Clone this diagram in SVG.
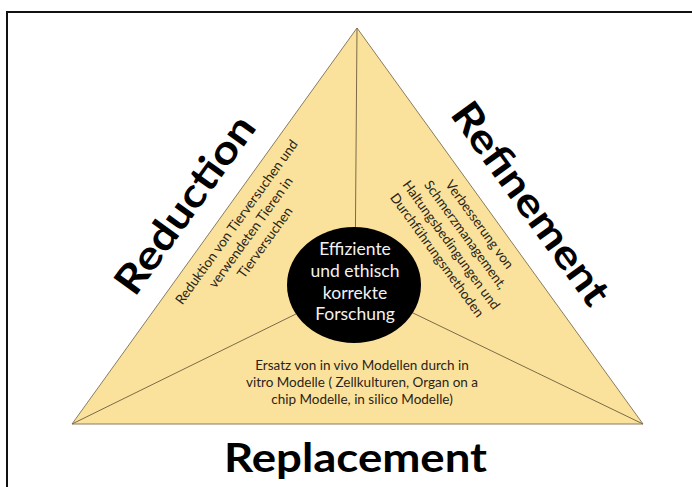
<svg xmlns="http://www.w3.org/2000/svg" width="692" height="487" viewBox="0 0 692 487">
  <style>
    .frame { fill: none; stroke: #111; stroke-width: 2; }
    .tri { fill: #fbe29c; stroke: #8a7c5c; stroke-width: 1; }
    .spoke { stroke: #7a6a48; stroke-width: 1; fill: none; }
    .hub { fill: #000; }
    .label { font-family: Lato, "Liberation Sans", sans-serif; font-weight: 700; font-size: 40px; fill: #000; text-anchor: middle; }
    .desc { font-family: Lato, "Liberation Sans", sans-serif; font-size: 13.5px; fill: #2a2418; text-anchor: middle; }
    .hubtext { font-family: Lato, "Liberation Sans", sans-serif; font-size: 17.5px; fill: #f2f2f2; text-anchor: middle; }
  </style>

  <!-- outer frame (runs past the right and bottom edges) -->
  <rect class="frame" x="7" y="12" width="700" height="500"/>

  <!-- main triangle -->
  <g id="triangle">
    <polygon class="tri" points="357,28 643,424 72,424"/>
  </g>

  <!-- spokes from each corner to the hub -->
  <g id="connectors">
    <line class="spoke" x1="357" y1="28" x2="355" y2="285"/>
    <line class="spoke" x1="72" y1="424" x2="355" y2="285"/>
    <line class="spoke" x1="643" y1="424" x2="355" y2="285"/>
  </g>

  <!-- central hub -->
  <g id="hub">
    <ellipse class="hub" cx="354" cy="285" rx="67" ry="58"/>
    <text class="hubtext" x="355" y="254.5">Effiziente</text>
    <text class="hubtext" x="355" y="276.5">und ethisch</text>
    <text class="hubtext" x="355" y="298.5">korrekte</text>
    <text class="hubtext" x="355" y="320">Forschung</text>
  </g>

  <!-- left side: Reduction -->
  <g id="reduction" transform="translate(72,424) rotate(-54.2)">
    <text class="label" x="244" y="-23" textLength="210" lengthAdjust="spacingAndGlyphs">Reduction</text>
    <text class="desc" x="260" y="20">Reduktion von Tierversuchen und</text>
    <text class="desc" x="260" y="37.5">verwendeten Tieren in</text>
    <text class="desc" x="260" y="55">Tierversuchen</text>
  </g>

  <!-- right side: Refinement -->
  <g id="refinement" transform="translate(357,28) rotate(54.1)">
    <text class="label" x="244" y="-24" textLength="240" lengthAdjust="spacingAndGlyphs">Refinement</text>
    <text class="desc" x="231" y="20.5">Verbesserung von</text>
    <text class="desc" x="231" y="38">Schmerzmanagement,</text>
    <text class="desc" x="231" y="55.5">Haltungsbedingungen und</text>
    <text class="desc" x="231" y="73">Durchführungsmethoden</text>
  </g>

  <!-- bottom side: Replacement -->
  <g id="replacement">
    <text class="desc" x="362" y="370">Ersatz von in vivo Modellen durch in</text>
    <text class="desc" x="362" y="387">vitro Modelle ( Zellkulturen, Organ on a</text>
    <text class="desc" x="362" y="404">chip Modelle, in silico Modelle)</text>
    <text class="label" x="355.5" y="472" textLength="263" lengthAdjust="spacingAndGlyphs">Replacement</text>
  </g>
</svg>
